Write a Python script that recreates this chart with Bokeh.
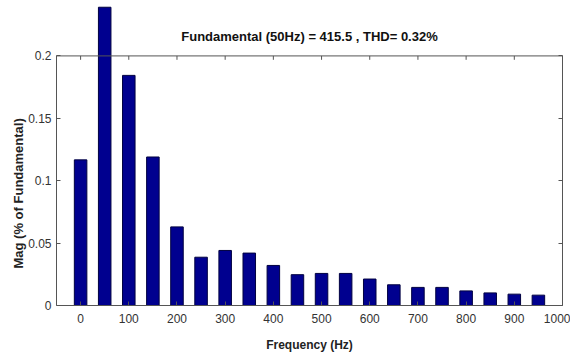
import numpy as np
from bokeh.plotting import figure
from bokeh.models import ColumnDataSource, Range1d, LinearAxis, Span, Label, FixedTicker, Title
from bokeh.embed import file_html
from bokeh.resources import INLINE

freqs = [0, 50, 100, 150, 200, 250, 300, 350, 400, 450, 500, 550, 600, 650, 700, 750, 800, 850, 900, 950]
mags = [0.1167, 0.239, 0.1844, 0.119, 0.063, 0.0387, 0.0441, 0.042, 0.0321, 0.0247,
        0.0257, 0.0257, 0.0212, 0.0166, 0.0145, 0.0145, 0.0117, 0.0101, 0.0091, 0.0083]
x_ticks = [0, 100, 200, 300, 400, 500, 600, 700, 800, 900, 1000]
y_ticks = [0, 0.05, 0.1, 0.15, 0.2]
title_text = "Fundamental (50Hz) = 415.5 , THD= 0.32%"
xlabel = "Frequency (Hz)"
ylabel = "Mag (% of Fundamental)"

FONT = "Liberation Sans Narrow, Arial Narrow, Liberation Sans, sans-serif"
AX = "#555555"
TXT = "#333333"

p = figure(width=570, height=354, output_backend="svg", toolbar_location=None,
           x_range=Range1d(-50, 1000), y_range=Range1d(0, 0.2412),
           min_border_left=56, min_border_right=8, min_border_top=4, min_border_bottom=40)
p.outline_line_color = None
p.grid.visible = False
p.background_fill_color = "white"

src = ColumnDataSource(dict(x=freqs, top=mags))
p.vbar(x="x", top="top", bottom=0, width=26, source=src,
       fill_color="#00008f", line_color="#000040", line_width=1)

for ax in (p.xaxis[0], p.yaxis[0]):
    ax.axis_line_color = AX
    ax.major_tick_line_color = AX
    ax.major_tick_in = 4
    ax.major_tick_out = 0
    ax.minor_tick_line_color = None
    ax.major_label_text_font = FONT
    ax.major_label_text_font_size = "12px"
    ax.major_label_text_color = TXT

p.xaxis.ticker = FixedTicker(ticks=x_ticks)
p.yaxis.ticker = FixedTicker(ticks=y_ticks)
p.yaxis.bounds = (0, 0.2)
p.yaxis.major_label_overrides = {0: "0", 0.2: "0.2", 0.1: "0.1"}
p.xaxis.major_label_standoff = 8
p.yaxis.major_label_standoff = 5
p.xaxis.axis_label = xlabel
p.xaxis.axis_label_text_font = FONT
p.xaxis.axis_label_text_font_size = "12px"
p.xaxis.axis_label_text_font_style = "bold"
p.xaxis.axis_label_text_color = "#222222"
p.xaxis.axis_label_standoff = 12

rax = LinearAxis(ticker=FixedTicker(ticks=y_ticks), bounds=(0, 0.2))
rax.axis_line_color = AX
rax.major_tick_line_color = AX
rax.major_tick_in = 4
rax.major_tick_out = 0
rax.minor_tick_line_color = None
rax.major_label_text_font_size = "0px"
rax.major_label_text_color = None
p.add_layout(rax, "right")

p.add_layout(Span(location=0.2, dimension="width", line_color=AX, line_width=1))
tick_len = 4 / 1285.0
p.segment(x0=x_ticks, x1=x_ticks, y0=[0.2] * len(x_ticks), y1=[0.2 - tick_len] * len(x_ticks),
          line_color=AX, line_width=1)

p.add_layout(Label(x=475, y=0.2, y_offset=19, text=title_text, text_align="center",
                   text_baseline="middle", text_font=FONT, text_font_size="13px",
                   text_font_style="bold", text_color="#111111"))
p.add_layout(Title(text=ylabel, align="left", offset=37, text_font="Liberation Sans",
                   text_font_size="13px", text_font_style="bold", text_color="#222222",
                   standoff=0), "left")

open("out.html", "w").write(file_html(p, INLINE))
